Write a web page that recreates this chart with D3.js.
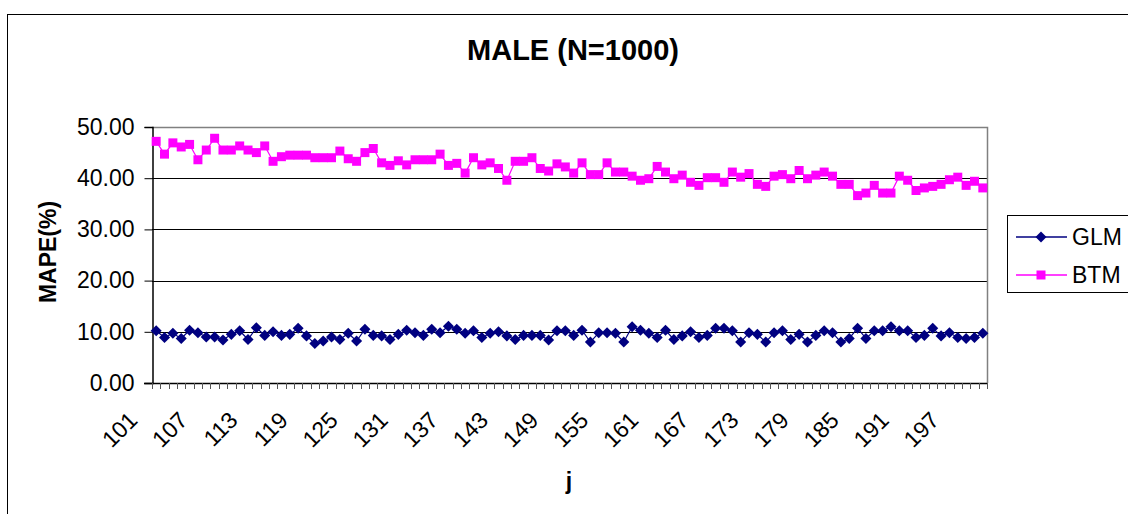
<!DOCTYPE html>
<html>
<head>
<meta charset="utf-8">
<script src="https://cdn.jsdelivr.net/npm/d3@7"></script>
<style>
  html, body { margin: 0; padding: 0; background: #fff; }
  svg { display: block; font-family: "Liberation Sans", Arial, sans-serif; }
</style>
</head>
<body>
<svg id="chart" width="1128" height="514"></svg>
<script>
// Sample index j
const categories = [
  101,102,103,104,105,106,107,108,109,110,111,112,113,114,115,116,117,118,119,120,
  121,122,123,124,125,126,127,128,129,130,131,132,133,134,135,136,137,138,139,140,
  141,142,143,144,145,146,147,148,149,150,151,152,153,154,155,156,157,158,159,160,
  161,162,163,164,165,166,167,168,169,170,171,172,173,174,175,176,177,178,179,180,
  181,182,183,184,185,186,187,188,189,190,191,192,193,194,195,196,197,198,199,200
];

// MAPE (%) of the GLM model
const glmValues = [
  10.2, 8.9, 9.7, 8.7,10.3, 9.8, 9.0, 9.0, 8.4, 9.5,
  10.2, 8.5,10.8, 9.3,10.0, 9.3, 9.5,10.7, 9.2, 7.7,
   8.2, 9.0, 8.5, 9.7, 8.2,10.5, 9.3, 9.2, 8.5, 9.5,
  10.3, 9.8, 9.3,10.5, 9.8,11.1,10.5, 9.7,10.2, 8.9,
   9.7,10.0, 9.2, 8.5, 9.3, 9.3, 9.3, 8.4,10.2,10.2,
   9.3,10.3, 8.0, 9.8, 9.8, 9.7, 8.0,11.0,10.3, 9.7,
   8.9,10.3, 8.5, 9.2,10.0, 8.9, 9.3,10.7,10.7,10.2,
   8.0, 9.8, 9.5, 8.0, 9.8,10.2, 8.5, 9.5, 8.0, 9.3,
  10.2, 9.8, 8.0, 8.7,10.7, 8.7,10.2,10.2,11.0,10.2,
  10.2, 8.9, 9.3,10.7, 9.2, 9.8, 8.9, 8.7, 8.9, 9.7
];

// MAPE (%) of the BTM model
const btmValues = [
  47.2,44.7,46.9,46.1,46.6,43.6,45.5,47.8,45.5,45.5,
  46.3,45.5,45.0,46.3,43.3,44.2,44.5,44.5,44.5,44.0,
  44.0,44.0,45.3,43.8,43.3,45.0,45.8,43.0,42.5,43.4,
  42.6,43.6,43.6,43.6,44.7,42.5,42.9,41.0,44.0,42.6,
  43.0,41.9,39.6,43.3,43.3,44.0,41.9,41.4,42.8,42.2,
  41.0,43.0,40.7,40.7,43.0,41.2,41.2,40.4,39.6,39.9,
  42.3,41.2,39.9,40.6,39.2,38.6,40.1,40.1,39.2,41.2,
  40.2,40.9,38.8,38.4,40.4,40.7,39.9,41.5,39.9,40.6,
  41.2,40.4,38.8,38.8,36.6,37.1,38.6,37.1,37.1,40.4,
  39.6,37.6,38.1,38.4,38.8,39.7,40.2,38.6,39.4,38.1
];

const xTickLabels = ["101","107","113","119","125","131","137","143","149","155","161","167","173","179","185","191","197"];
const yTicks = [0, 10, 20, 30, 40, 50];

const seriesNames = ["GLM", "BTM"];
const seriesColors = ["#000080", "#FF00FF"];
const chartTitle = "MALE (N=1000)";
const xTitle = "j";
const yTitle = "MAPE(%)";

const svg = d3.select("#chart");

// Outer chart frame
svg.append("rect")
  .attr("x", 7.5).attr("y", 14.5)
  .attr("width", 1130).attr("height", 510)
  .attr("fill", "none").attr("stroke", "#000").attr("stroke-width", 1);

const plot = { left: 152, right: 987, top: 127, bottom: 383 };

const x = d3.scaleBand()
  .domain(categories)
  .range([plot.left, plot.right])
  .paddingInner(0).paddingOuter(0);

const y = d3.scaleLinear()
  .domain([0, 50])
  .range([plot.bottom, plot.top]);

const cx = d => x(d) + x.bandwidth() / 2;

// Horizontal gridlines
svg.append("g")
  .selectAll("line")
  .data(yTicks.filter(t => t > 0 && t < 50))
  .join("line")
  .attr("x1", plot.left).attr("x2", plot.right)
  .attr("y1", d => Math.round(y(d)) + 0.5).attr("y2", d => Math.round(y(d)) + 0.5)
  .attr("stroke", "#000").attr("stroke-width", 1);

// Plot-area border on the top and right
svg.append("path")
  .attr("d", `M${plot.left},${plot.top + 0.5}H${plot.right + 0.5}V${plot.bottom}`)
  .attr("fill", "none").attr("stroke", "#808080").attr("stroke-width", 1.5);

// Y axis
const yAxis = d3.axisLeft(y)
  .tickValues(yTicks)
  .tickSize(8)
  .tickPadding(10)
  .tickFormat(d3.format(".2f"));

const gy = svg.append("g")
  .attr("transform", `translate(${plot.left + 0.5},0)`)
  .call(yAxis);
gy.select(".domain").attr("stroke", "#000").attr("stroke-width", 1.5);
gy.selectAll(".tick line").attr("stroke", "#000");
gy.selectAll(".tick text")
  .attr("font-size", 23)
  .attr("fill", "#000")
  .attr("font-family", "Liberation Sans, Arial, sans-serif");

// X axis: ticks on category boundaries
const boundaries = categories.map(c => x(c)).concat([plot.right]);
const gx = svg.append("g");
gx.append("line")
  .attr("x1", plot.left - 8).attr("x2", plot.right)
  .attr("y1", plot.bottom + 0.5).attr("y2", plot.bottom + 0.5)
  .attr("stroke", "#000").attr("stroke-width", 1.5);
gx.selectAll("line.tick")
  .data(boundaries)
  .join("line")
  .attr("class", "tick")
  .attr("x1", d => Math.round(d) + 0.5).attr("x2", d => Math.round(d) + 0.5)
  .attr("y1", plot.bottom).attr("y2", plot.bottom + 6)
  .attr("stroke", "#555").attr("stroke-width", 1);

gx.selectAll("text")
  .data(xTickLabels)
  .join("text")
  .attr("transform", d => `translate(${cx(+d) - 23},${plot.bottom + 33}) rotate(-45)`)
  .attr("text-anchor", "end")
  .attr("dy", "0.35em")
  .attr("font-size", 23)
  .attr("fill", "#000")
  .text(d => d);

// Series lines and markers
const line = d3.line()
  .x((d, i) => cx(categories[i]))
  .y(d => y(d));

const diamondPath = d3.symbol().type(d3.symbolDiamond2).size(78)();
const squarePath = d3.symbol().type(d3.symbolSquare).size(81)();
const markerPaths = [diamondPath, squarePath];

function drawSeries(values, color, markerPath) {
  svg.append("path")
    .datum(values)
    .attr("d", line)
    .attr("fill", "none")
    .attr("stroke", color)
    .attr("stroke-width", 1.2);
  svg.append("g")
    .selectAll("path")
    .data(values)
    .join("path")
    .attr("transform", (d, i) => `translate(${cx(categories[i])},${y(d)})`)
    .attr("d", markerPath)
    .attr("fill", color);
}

drawSeries(glmValues, seriesColors[0], markerPaths[0]);
drawSeries(btmValues, seriesColors[1], markerPaths[1]);

// Titles
svg.append("text")
  .attr("x", 573).attr("y", 60)
  .attr("text-anchor", "middle")
  .attr("font-size", 29).attr("font-weight", "bold")
  .text(chartTitle);

svg.append("text")
  .attr("x", 569).attr("y", 489)
  .attr("text-anchor", "middle")
  .attr("font-size", 23).attr("font-weight", "bold")
  .text(xTitle);

svg.append("text")
  .attr("transform", "translate(56,252) rotate(-90)")
  .attr("text-anchor", "middle")
  .attr("font-size", 23).attr("font-weight", "bold")
  .text(yTitle);

// Legend
const legend = svg.append("g");
legend.append("rect")
  .attr("x", 1007.5).attr("y", 215.5)
  .attr("width", 140).attr("height", 77)
  .attr("fill", "#fff").attr("stroke", "#000").attr("stroke-width", 1);

const legendRows = [237, 275];
seriesNames.forEach((name, i) => {
  const ly = legendRows[i];
  legend.append("line")
    .attr("x1", 1016).attr("x2", 1067)
    .attr("y1", ly).attr("y2", ly)
    .attr("stroke", seriesColors[i]).attr("stroke-width", 1.5);
  legend.append("path")
    .attr("transform", `translate(1041,${ly})`)
    .attr("d", markerPaths[i])
    .attr("fill", seriesColors[i]);
  legend.append("text")
    .attr("x", 1072).attr("y", ly)
    .attr("dy", "0.35em")
    .attr("font-size", 23)
    .text(name);
});
</script>
</body>
</html>
